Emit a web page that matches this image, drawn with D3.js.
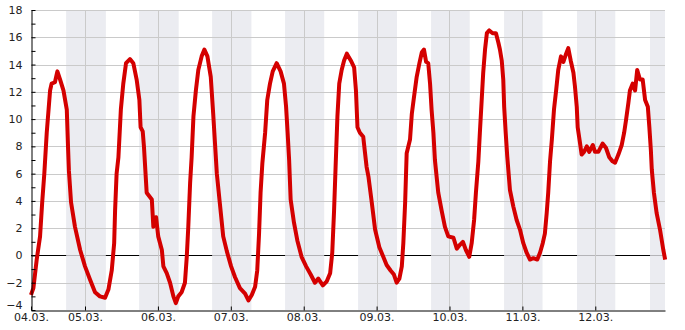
<!DOCTYPE html>
<html>
<head>
<meta charset="utf-8">
<script src="https://cdn.jsdelivr.net/npm/d3@7"></script>
<style>
  body { margin: 0; background: #fff; }
  svg text { font-family: "DejaVu Sans", sans-serif; font-size: 11px; fill: #222; }
</style>
</head>
<body>
<svg id="temp-chart" width="685" height="330"></svg>
<script>
// time of each reading, in hours after 04.03. 00:00
const hours = [6.2, 7.0, 8.1, 9.2, 9.9, 10.6, 11.4, 12.5, 13.0, 14.1, 14.9, 15.8, 16.9, 18.0, 18.4, 18.7,
  19.4, 20.7, 22.4, 24.0, 25.7, 27.3, 28.9, 30.6, 31.7, 32.8, 33.6, 33.9, 34.4, 35.0, 35.8, 36.6,
  37.5, 38.8, 39.9, 41.0, 41.9, 42.3, 43.0, 43.4, 44.3, 46.0, 46.5, 47.4, 48.1, 49.3, 49.8, 50.9,
  52.0, 53.1, 53.9, 54.7, 55.8, 56.9, 57.5, 58.0, 58.6, 59.1, 59.7, 60.5, 61.3, 62.4, 63.3, 64.3,
  65.4, 66.2, 66.8, 67.4, 68.4, 69.5, 70.7, 72.1, 73.4, 75.0, 76.7, 77.8, 78.9, 80.0, 80.7, 81.3,
  81.8, 82.4, 83.3, 84.0, 84.9, 85.8, 87.1, 88.4, 89.5, 90.2, 90.7, 91.2, 91.7, 92.8, 93.9, 95.3,
  96.8, 98.3, 99.7, 100.8, 102.3, 103.6, 104.7, 105.4, 106.0, 106.5, 107.1, 107.7, 108.5, 109.3,
  110.2, 111.5, 112.6, 113.2, 113.7, 114.5, 115.6, 116.2, 116.7, 117.3, 118.4, 119.5, 120.9, 122.2,
  123.3, 124.6, 125.7, 126.6, 127.5, 128.3, 128.8, 129.4, 129.9, 131.0, 131.6, 132.3, 133.2, 134.1,
  134.9, 135.6, 136.3, 137.0, 137.6, 138.1, 138.7, 139.2, 140.3, 141.4, 142.5, 143.6, 145.3, 146.4,
  147.5, 148.4, 149.4, 150.5, 151.3, 152.1, 152.7, 153.5, 154.0, 154.6, 155.1, 155.7, 156.3, 157.1,
  158.2, 159.3, 160.1, 160.6, 161.2, 161.7, 162.0, 162.5, 163.0, 163.9, 165.0, 166.1, 167.2, 168.3,
  169.4, 170.5, 171.6, 172.9, 173.8, 174.7, 175.4, 176.0, 176.5, 177.1, 177.7, 178.4, 179.1, 179.8,
  180.7, 181.5, 182.4, 183.1, 183.9, 184.8, 185.3, 185.9, 186.2, 187.0, 187.5, 188.3, 189.2, 190.0,
  191.2, 191.9, 193.0, 194.4, 195.5, 196.6, 197.7, 198.5, 199.6, 200.7, 201.5, 202.1, 202.9, 203.4,
  204.3, 205.1, 205.8, 206.7, 207.6, 208.4, 209.3, 209.8, 210.3, 210.6, 211.3, 212.2, 213.3, 214.4, 215.0]
// temperature in °C
const temps = [-2.9, -2.4, -0.3, 1.4, 3.9, 6.0, 9.0, 12.1, 12.6, 12.7, 13.5, 12.9, 12.1, 10.7, 8.0, 6.2,
  3.9, 2.1, 0.4, -0.8, -1.8, -2.7, -3.0, -3.1, -2.5, -1.1, 0.9, 3.3, 6.0, 7.2, 10.7, 12.6,
  14.1, 14.4, 14.1, 12.9, 11.4, 9.4, 9.1, 8.0, 4.6, 4.1, 2.1, 2.8, 1.4, 0.4, -0.8, -1.3,
  -2.0, -3.0, -3.5, -3.0, -2.7, -2.0, -0.1, 2.1, 5.3, 7.2, 10.2, 12.1, 13.6, 14.6, 15.1, 14.6,
  13.1, 10.4, 8.2, 6.0, 3.8, 1.4, 0.3, -0.8, -1.6, -2.4, -2.8, -3.3, -2.9, -2.3, -1.1, 1.6,
  4.6, 6.8, 9.0, 11.4, 12.6, 13.5, 14.1, 13.5, 12.6, 10.9, 9.0, 7.0, 4.1, 2.4, 1.1, -0.1,
  -0.8, -1.4, -2.0, -1.7, -2.2, -1.9, -1.3, 0.2, 3.3, 6.5, 10.2, 12.6, 13.6, 14.3,
  14.8, 14.3, 13.8, 12.1, 9.4, 9.0, 8.7, 7.5, 6.5, 5.8, 3.9, 1.9, 0.6, -0.1,
  -0.7, -1.1, -1.4, -2.0, -1.7, -0.8, 0.9, 3.9, 7.5, 8.5, 10.4, 11.6, 13.1, 14.1,
  14.9, 15.1, 14.2, 14.1, 12.6, 10.7, 9.0, 7.0, 4.6, 3.3, 2.1, 1.4, 1.3, 0.5,
  0.8, 1.0, 0.4, -0.1, 0.9, 2.6, 4.6, 6.9, 9.0, 11.4, 13.4, 15.1, 16.3, 16.5,
  16.3, 16.3, 15.6, 15.1, 14.3, 12.9, 10.9, 9.0, 7.3, 4.8, 3.6, 2.6, 1.9, 0.9,
  0.2, -0.3, -0.2, -0.3, 0.2, 0.9, 1.6, 3.1, 4.6, 6.9, 8.5, 10.7, 12.1, 13.6,
  14.6, 14.2, 14.8, 15.2, 14.3, 13.4, 12.4, 10.9, 9.4, 8.2, 7.4, 7.6, 8.0, 7.6,
  8.1, 7.6, 7.6, 8.2, 7.9, 7.2, 6.9, 6.8, 7.4, 8.1, 9.0, 9.9, 11.2, 12.1,
  12.6, 12.1, 13.6, 12.9, 12.9, 11.4, 10.9, 9.4, 7.7, 6.3, 4.6, 3.1, 1.9, 0.4, -0.3]

// night periods (grey bands)
const sunsets = ['04.03. 17:47', '05.03. 17:49', '06.03. 17:51', '07.03. 17:52', '08.03. 17:54',
  '09.03. 17:56', '10.03. 17:58', '11.03. 17:59', '12.03. 18:01']
const sunrises = ['05.03. 06:52', '06.03. 06:50', '07.03. 06:47', '08.03. 06:45', '09.03. 06:43',
  '10.03. 06:40', '11.03. 06:38', '12.03. 06:35', '13.03. 06:33']

const dayTicks = ['04.03. 06:13', '05.03. 00:00', '06.03. 00:00', '07.03. 00:00', '08.03. 00:00',
  '09.03. 00:00', '10.03. 00:00', '11.03. 00:00', '12.03. 00:00']
const yTicks = [-4, -2, 0, 2, 4, 6, 8, 10, 12, 14, 16, 18]

var parse = d3.timeParse('%d.%m. %H:%M')
var t0 = parse('04.03. 00:00')
var toDate = h => new Date(t0.getTime() + h * 3600e3)

var svg = d3.select('#temp-chart')
var pLeft = 31, pRight = 665, pTop = 10, pBottom = 310

var x = d3.scaleTime()
  .domain([parse('04.03. 06:13'), parse('12.03. 22:57')])
  .range([pLeft, pRight])
var y = d3.scaleLinear().domain([-4, 18]).range([pBottom, pTop])

// night bands
svg.append('g').selectAll('rect')
  .data(sunsets.map((s, i) => [parse(s), parse(sunrises[i])]))
  .enter().append('rect')
  .attr('x', d => x(d[0]))
  .attr('width', d => Math.min(x(d[1]), pRight) - x(d[0]))
  .attr('y', pTop).attr('height', pBottom - pTop)
  .attr('fill', '#ebecf1')

var midnights = dayTicks.slice(1).map(parse)

// grid
svg.append('g').selectAll('line')
  .data(yTicks.filter(v => v > -4))
  .enter().append('line')
  .attr('x1', pLeft).attr('x2', pRight)
  .attr('y1', d => Math.round(y(d)) + 0.5).attr('y2', d => Math.round(y(d)) + 0.5)
  .attr('stroke', d => d === 0 ? '#b4b4b8' : '#cacaca')
svg.append('g').selectAll('line')
  .data(midnights)
  .enter().append('line')
  .attr('x1', d => Math.round(x(d)) + 0.5).attr('x2', d => Math.round(x(d)) + 0.5)
  .attr('y1', pTop).attr('y2', pBottom)
  .attr('stroke', '#cacaca')

// zero line, black only over daytime
var days = [[x.domain()[0], parse(sunsets[0])]].concat(
  sunrises.slice(0, -1).map((r, i) => [parse(r), parse(sunsets[i + 1])]))
svg.append('g').selectAll('line')
  .data(days)
  .enter().append('line')
  .attr('x1', d => x(d[0])).attr('x2', d => x(d[1]))
  .attr('y1', Math.round(y(0)) + 0.5).attr('y2', Math.round(y(0)) + 0.5)
  .attr('stroke', '#000')

// temperature line
var line = d3.line()
  .x((h, i) => x(toDate(h)))
  .y((h, i) => y(temps[i]))
svg.append('path')
  .attr('d', line(hours))
  .attr('fill', 'none')
  .attr('stroke', '#d40000')
  .attr('stroke-width', 4)
  .attr('stroke-linejoin', 'round')

// axes
var yAxis = svg.append('g')
  .attr('transform', 'translate(' + (pLeft + 0.5) + ',0)')
  .call(d3.axisLeft(y).tickValues(yTicks).tickSizeInner(-4).tickSizeOuter(0).tickPadding(9))
svg.append('g')
  .attr('transform', 'translate(' + (pLeft + 0.5) + ',0)')
  .call(d3.axisLeft(y).tickValues(d3.range(-3, 18, 2)).tickSize(-4).tickFormat(''))
  .select('.domain').remove()
var xAxis = svg.append('g')
  .attr('transform', 'translate(0,' + (pBottom + 0.5) + ')')
  .call(d3.axisBottom(x).tickValues(dayTicks.map(parse)).tickSizeInner(-4).tickSizeOuter(0)
    .tickPadding(3).tickFormat(d3.timeFormat('%d.%m.')))

svg.selectAll('.domain').attr('stroke', '#000')
svg.selectAll('.tick line').attr('stroke', '#000')
svg.selectAll('.tick text').attr('font-size', null).attr('font-family', null)
// keep "-4" clear of the first date label
yAxis.selectAll('.tick text').filter(d => d === -4).attr('dy', '-0.1em')
</script>
</body>
</html>
